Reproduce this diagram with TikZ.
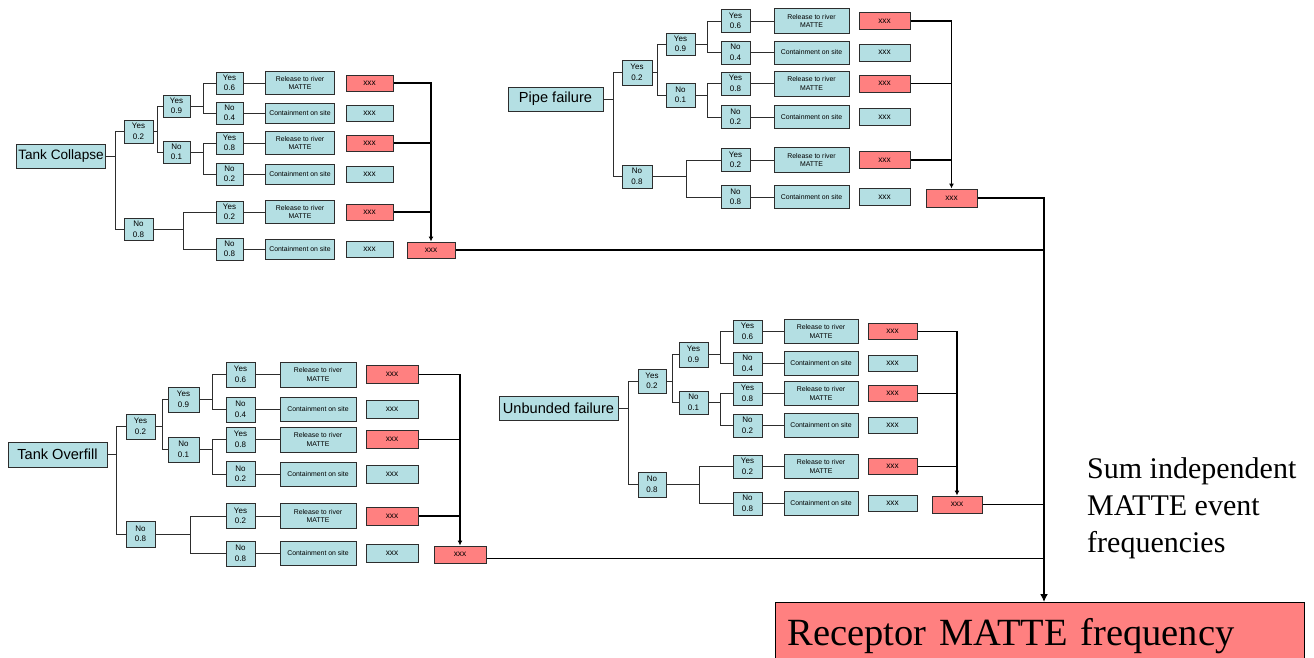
\documentclass[tikz,border=0pt]{standalone}
\usepackage{fontspec}
\setmainfont{Liberation Serif}
\newfontfamily\arialf{Liberation Sans}
\usetikzlibrary{arrows.meta}
\definecolor{boxcyan}{RGB}{180,223,227}
\definecolor{boxred}{RGB}{255,128,128}
\definecolor{edgegray}{RGB}{45,45,45}
\tikzset{
  basebox/.style={draw=edgegray, line width=1pt, inner sep=0pt, align=center},
  rootbox/.style={basebox, fill=boxcyan, font=\arialf\fontsize{14.6}{16}\selectfont},
  probbox/.style={basebox, fill=boxcyan, font=\arialf\fontsize{8}{10.5}\selectfont},
  outbox/.style={basebox, fill=boxcyan, font=\arialf\fontsize{6.9}{8.4}\selectfont},
  valbox/.style={basebox, fill=boxcyan, font=\arialf\fontsize{8.3}{9}\selectfont},
  redbox/.style={valbox, fill=boxred},
  branch/.style={draw=edgegray, line width=0.9pt},
  collector/.style={draw=black, line width=1.5pt},
  collectorarrow/.style={collector, -{Latex[length=5pt,width=5pt]}},
}
% two-way split: parent #1, fork coordinate #2, children #3 and #4
\newcommand\forkto[4]{%
  \draw[branch] (#1.east) -- (#2 |- #1.east) |- (#3.west);
  \draw[branch] (#2 |- #1.east) |- (#4.west);
}
\begin{document}
\begin{tikzpicture}[x=1pt, y=-1pt]
\useasboundingbox (0,0) rectangle (1314,657);
\clip (0,0) rectangle (1314,657);

% ---------------- Tank Collapse ----------------
\node[rootbox, minimum width=89pt, minimum height=24pt, font=\arialf\fontsize{13.6}{15}\selectfont] (tc) at (61,156) {Tank Collapse};
\node[probbox, minimum width=29pt, minimum height=23pt] (tcA) at (138.5,131.5) {Yes\\0.2};
\node[probbox, minimum width=29pt, minimum height=22pt] (tcB) at (138.5,229.5) {No\\0.8};
\node[probbox, minimum width=27pt, minimum height=22pt] (tcAA) at (176.5,106) {Yes\\0.9};
\node[probbox, minimum width=27pt, minimum height=22pt] (tcAB) at (176.5,152) {No\\0.1};
\foreach \i/\y/\a/\p in {1/83/Yes/0.6, 2/113/No/0.4, 3/143/Yes/0.8, 4/174/No/0.2, 5/212/Yes/0.2, 6/249/No/0.8}{
  \node[probbox, minimum width=27pt, minimum height=22pt] (tcC\i) at (229.5,\y) {\a\\\p};
  \ifodd\i
    \node[outbox, minimum width=69pt, minimum height=23pt] (tcO\i) at (300,\y) {Release to river\\MATTE};
    \node[redbox, minimum width=47pt, minimum height=16pt] (tcV\i) at (369.5,\y) {xxx};
  \else
    \node[outbox, minimum width=69pt, minimum height=20pt] (tcO\i) at (300,\y) {Containment on site};
    \node[valbox, minimum width=47pt, minimum height=16pt] (tcV\i) at (369.5,\y) {xxx};
  \fi
  \draw[branch] (tcC\i.east) -- (tcO\i.west);
}
\node[redbox, minimum width=48pt, minimum height=16pt] (tcS) at (431,250) {xxx};
\coordinate (tcF0) at (115,0);
\coordinate (tcF1) at (157,0);
\coordinate (tcF2) at (203,0);
\coordinate (tcF3) at (183,0);
\forkto{tc}{tcF0}{tcA}{tcB}
\forkto{tcA}{tcF1}{tcAA}{tcAB}
\forkto{tcAA}{tcF2}{tcC1}{tcC2}
\forkto{tcAB}{tcF2}{tcC3}{tcC4}
\forkto{tcB}{tcF3}{tcC5}{tcC6}
\draw[collectorarrow] (tcV1.east) -| (tcS.north);
\draw[collector] (tcV3.east) -- (tcV3.east -| tcS.north);
\draw[collector] (tcV5.east) -- (tcV5.east -| tcS.north);

% ---------------- Pipe failure ----------------
\node[rootbox, minimum width=95pt, minimum height=24pt] (pf) at (555.5,99) {Pipe failure};
\node[probbox, minimum width=30pt, minimum height=25pt] (pfA) at (637,72.5) {Yes\\0.2};
\node[probbox, minimum width=30pt, minimum height=23pt] (pfB) at (637,176.5) {No\\0.8};
\node[probbox, minimum width=29pt, minimum height=22pt] (pfAA) at (680.5,44) {Yes\\0.9};
\node[probbox, minimum width=29pt, minimum height=24pt] (pfAB) at (680.5,95) {No\\0.1};
\foreach \i/\y/\a/\p in {1/21/Yes/0.6, 2/52.5/No/0.4, 3/83.5/Yes/0.8, 4/117/No/0.2, 5/160/Yes/0.2, 6/197/No/0.8}{
  \node[probbox, minimum width=29pt, minimum height=23pt] (pfC\i) at (735.5,\y) {\a\\\p};
  \ifodd\i
    \node[outbox, minimum width=75pt, minimum height=25pt] (pfO\i) at (811.5,\y) {Release to river\\MATTE};
    \node[redbox, minimum width=51pt, minimum height=17pt] (pfV\i) at (884.5,\y) {xxx};
  \else
    \node[outbox, minimum width=75pt, minimum height=23pt] (pfO\i) at (811.5,\y) {Containment on site};
    \node[valbox, minimum width=51pt, minimum height=17pt] (pfV\i) at (884.5,\y) {xxx};
  \fi
  \draw[branch] (pfC\i.east) -- (pfO\i.west);
}
\node[redbox, minimum width=51pt, minimum height=18pt] (pfS) at (951.5,198) {xxx};
\coordinate (pfF0) at (613,0);
\coordinate (pfF1) at (657,0);
\coordinate (pfF2) at (707,0);
\coordinate (pfF3) at (686,0);
\forkto{pf}{pfF0}{pfA}{pfB}
\forkto{pfA}{pfF1}{pfAA}{pfAB}
\forkto{pfAA}{pfF2}{pfC1}{pfC2}
\forkto{pfAB}{pfF2}{pfC3}{pfC4}
\forkto{pfB}{pfF3}{pfC5}{pfC6}
\draw[collectorarrow] (pfV1.east) -| (pfS.north);
\draw[collector] (pfV3.east) -- (pfV3.east -| pfS.north);
\draw[collector] (pfV5.east) -- (pfV5.east -| pfS.north);

% ---------------- Tank Overfill ----------------
\node[rootbox, minimum width=99pt, minimum height=25pt] (to) at (57.5,454.5) {Tank Overfill};
\node[probbox, minimum width=29pt, minimum height=25pt] (toA) at (140.5,426.5) {Yes\\0.2};
\node[probbox, minimum width=29pt, minimum height=26pt] (toB) at (140.5,534) {No\\0.8};
\node[probbox, minimum width=31pt, minimum height=25pt] (toAA) at (183.5,399.5) {Yes\\0.9};
\node[probbox, minimum width=31pt, minimum height=25pt] (toAB) at (183.5,449.5) {No\\0.1};
\foreach \i/\y/\a/\p in {1/374.5/Yes/0.6, 2/409.5/No/0.4, 3/439.5/Yes/0.8, 4/474/No/0.2, 5/516/Yes/0.2, 6/553.5/No/0.8}{
  \node[probbox, minimum width=29pt, minimum height=25pt] (toC\i) at (240.5,\y) {\a\\\p};
  \ifodd\i
    \node[outbox, minimum width=76pt, minimum height=25pt] (toO\i) at (318,\y) {Release to river\\MATTE};
    \node[redbox, minimum width=52pt, minimum height=18pt] (toV\i) at (392,\y) {xxx};
  \else
    \node[outbox, minimum width=76pt, minimum height=24pt] (toO\i) at (318,\y) {Containment on site};
    \node[valbox, minimum width=52pt, minimum height=18pt] (toV\i) at (392,\y) {xxx};
  \fi
  \draw[branch] (toC\i.east) -- (toO\i.west);
}
\node[redbox, minimum width=52pt, minimum height=17pt] (toS) at (460,554.5) {xxx};
\coordinate (toF0) at (116,0);
\coordinate (toF1) at (162,0);
\coordinate (toF2) at (212,0);
\coordinate (toF3) at (190,0);
\forkto{to}{toF0}{toA}{toB}
\forkto{toA}{toF1}{toAA}{toAB}
\forkto{toAA}{toF2}{toC1}{toC2}
\forkto{toAB}{toF2}{toC3}{toC4}
\forkto{toB}{toF3}{toC5}{toC6}
\draw[collectorarrow] (toV1.east) -| (toS.north);
\draw[collector] (toV3.east) -- (toV3.east -| toS.north);
\draw[collector] (toV5.east) -- (toV5.east -| toS.north);

% ---------------- Unbunded failure ----------------
\node[rootbox, minimum width=119pt, minimum height=24pt] (uf) at (558.5,408) {Unbunded failure};
\node[probbox, minimum width=28pt, minimum height=24pt] (ufA) at (652,381) {Yes\\0.2};
\node[probbox, minimum width=28pt, minimum height=25pt] (ufB) at (652,484.5) {No\\0.8};
\node[probbox, minimum width=29pt, minimum height=25pt] (ufAA) at (693.5,354.5) {Yes\\0.9};
\node[probbox, minimum width=29pt, minimum height=23pt] (ufAB) at (693.5,402.5) {No\\0.1};
\foreach \i/\y/\a/\p in {1/331.5/Yes/0.6, 2/363.5/No/0.4, 3/393.5/Yes/0.8, 4/425.5/No/0.2, 5/466.5/Yes/0.2, 6/503.5/No/0.8}{
  \node[probbox, minimum width=29pt, minimum height=23pt] (ufC\i) at (747.5,\y) {\a\\\p};
  \ifodd\i
    \node[outbox, minimum width=74pt, minimum height=24pt] (ufO\i) at (821,\y) {Release to river\\MATTE};
    \node[redbox, minimum width=49pt, minimum height=16pt] (ufV\i) at (892.5,\y) {xxx};
  \else
    \node[outbox, minimum width=74pt, minimum height=24pt] (ufO\i) at (821,\y) {Containment on site};
    \node[valbox, minimum width=49pt, minimum height=16pt] (ufV\i) at (892.5,\y) {xxx};
  \fi
  \draw[branch] (ufC\i.east) -- (ufO\i.west);
}
\node[redbox, minimum width=50pt, minimum height=17pt] (ufS) at (957,504.5) {xxx};
\coordinate (ufF0) at (628,0);
\coordinate (ufF1) at (672,0);
\coordinate (ufF2) at (720,0);
\coordinate (ufF3) at (699,0);
\forkto{uf}{ufF0}{ufA}{ufB}
\forkto{ufA}{ufF1}{ufAA}{ufAB}
\forkto{ufAA}{ufF2}{ufC1}{ufC2}
\forkto{ufAB}{ufF2}{ufC3}{ufC4}
\forkto{ufB}{ufF3}{ufC5}{ufC6}
\draw[collectorarrow] (ufV1.east) -| (ufS.north);
\draw[collector] (ufV3.east) -- (ufV3.east -| ufS.north);
\draw[collector] (ufV5.east) -- (ufV5.east -| ufS.north);

% ---------------- Receptor and summation ----------------
\node[draw=black, line width=1.2pt, fill=boxred, anchor=north west,
      inner xsep=12pt, inner ysep=0pt, text width=505pt, align=left,
      text height=43pt, text depth=40pt,
      font=\fontsize{38.5}{40}\selectfont] (rc) at (775,602) {Receptor MATTE frequency};
\node[anchor=north west, inner sep=0pt, align=left,
      font=\fontsize{30}{37}\selectfont] (note) at (1087,457.5) {Sum independent\\MATTE event\\frequencies};
\coordinate (bus) at (1044,198);
\draw[collector, -{Latex[length=8pt,width=8pt]}] (pfS.east) -| (bus |- rc.north);
\draw[collector] (tcS.east) -- (tcS.east -| bus);
\draw[collector] (ufS.east) -- (ufS.east -| bus);
\draw[collector] ([yshift=-4pt]toS.east) -- ([yshift=-4pt]toS.east -| bus);
\end{tikzpicture}
\end{document}
